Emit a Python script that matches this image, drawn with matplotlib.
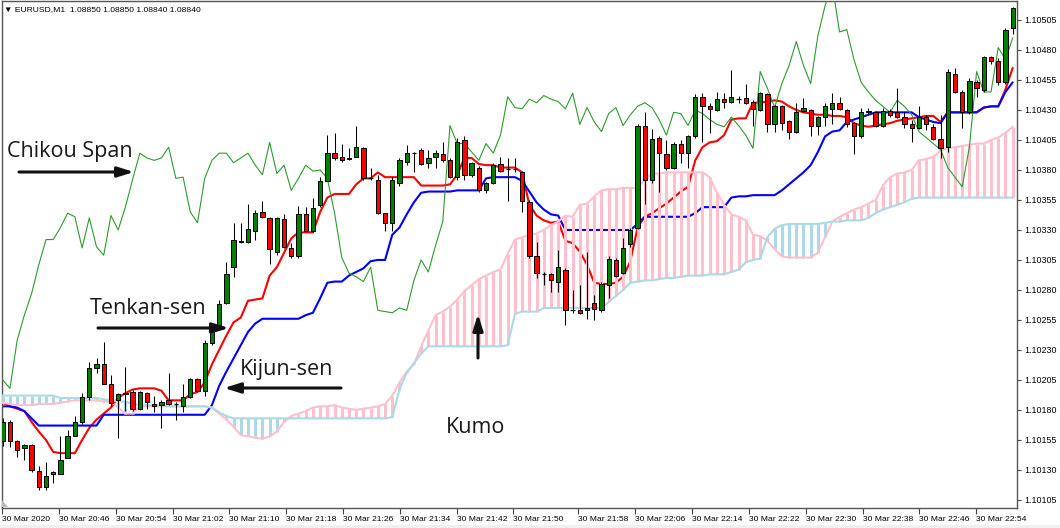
import matplotlib
matplotlib.use('Agg')
import matplotlib.pyplot as plt
import numpy as np
from matplotlib.patches import Rectangle, Polygon

# ---------------- data (EURUSD M1, prices) ----------------
opens = [1.10154,1.10170,1.10154,1.10148,1.10151,1.10129,1.10116,1.10127,1.10127,1.10140,
         1.10158,1.10170,1.10191,1.10215,1.10218,1.10202,1.10188,1.10193,1.10195,1.10181,
         1.10194,1.10185,1.10184,1.10188,1.10185,1.10183,1.10191,1.10206,1.10196,1.10236,
         1.10251,1.10269,1.10299,1.10320,1.10320,1.10329,1.10345,1.10340,1.10312,1.10339,
         1.10315,1.10308,1.10343,1.10329,1.10351,1.10371,1.10394,1.10391,1.10389,1.10391,
         1.10398,1.10373,1.10372,1.10344,1.10336,1.10369,1.10387,1.10394,1.10397,1.10386,
         1.10391,1.10393,1.10388,1.10374,1.10405,1.10376,1.10382,1.10363,1.10369,1.10385,
         1.10381,1.10381,1.10378,1.10353,1.10308,1.10293,1.10293,1.10287,1.10297,1.10263,
         1.10263,1.10263,1.10269,1.10263,1.10284,1.10305,1.10294,1.10318,1.10332,1.10417,
         1.10372,1.10407,1.10393,1.10382,1.10402,1.10394,1.10408,1.10441,1.10433,1.10430,
         1.10439,1.10437,1.10439,1.10440,1.10437,1.10430,1.10443,1.10418,1.10433,1.10421,
         1.10412,1.10429,1.10430,1.10417,1.10424,1.10431,1.10436,1.10430,1.10419,1.10408,
         1.10429,1.10428,1.10417,1.10429,1.10428,1.10424,1.10418,1.10415,1.10424,1.10416,
         1.10406,1.10399,1.10460,1.10445,1.10428,1.10453,1.10447,1.10474,1.10471,1.10453,
         1.10498]
highs = [1.10173,1.10172,1.10155,1.10152,1.10152,1.10133,1.10137,1.10129,1.10158,1.10163,
         1.10175,1.10194,1.10220,1.10223,1.10237,1.10209,1.10194,1.10216,1.10197,1.10196,
         1.10195,1.10192,1.10188,1.10211,1.10187,1.10202,1.10207,1.10207,1.10238,1.10252,
         1.10272,1.10303,1.10336,1.10336,1.10352,1.10347,1.10354,1.10341,1.10341,1.10343,
         1.10319,1.10350,1.10349,1.10357,1.10374,1.10409,1.10411,1.10402,1.10398,1.10417,
         1.10399,1.10382,1.10376,1.10344,1.10374,1.10390,1.10401,1.10395,1.10398,1.10397,
         1.10397,1.10403,1.10390,1.10407,1.10408,1.10387,1.10383,1.10370,1.10386,1.10391,
         1.10390,1.10390,1.10379,1.10355,1.10320,1.10295,1.10294,1.10313,1.10298,1.10280,
         1.10284,1.10312,1.10276,1.10287,1.10308,1.10307,1.10323,1.10332,1.10418,1.10428,
         1.10414,1.10408,1.10405,1.10403,1.10405,1.10409,1.10443,1.10444,1.10436,1.10445,
         1.10444,1.10463,1.10442,1.10452,1.10438,1.10445,1.10444,1.10434,1.10434,1.10422,
         1.10436,1.10440,1.10431,1.10425,1.10436,1.10444,1.10441,1.10431,1.10420,1.10432,
         1.10432,1.10429,1.10432,1.10431,1.10448,1.10428,1.10422,1.10433,1.10426,1.10418,
         1.10426,1.10464,1.10465,1.10447,1.10457,1.10455,1.10475,1.10475,1.10473,1.10498,
         1.10516]
lows = [1.10150,1.10149,1.10141,1.10138,1.10128,1.10113,1.10113,1.10119,1.10127,1.10140,
        1.10158,1.10168,1.10188,1.10211,1.10202,1.10183,1.10157,1.10179,1.10179,1.10180,
        1.10181,1.10178,1.10165,1.10184,1.10172,1.10178,1.10190,1.10195,1.10192,1.10234,
        1.10249,1.10268,1.10291,1.10319,1.10319,1.10322,1.10340,1.10302,1.10309,1.10315,
        1.10307,1.10307,1.10328,1.10328,1.10349,1.10371,1.10388,1.10387,1.10388,1.10391,
        1.10372,1.10372,1.10343,1.10329,1.10329,1.10367,1.10384,1.10378,1.10384,1.10382,
        1.10382,1.10387,1.10373,1.10372,1.10372,1.10374,1.10362,1.10361,1.10368,1.10378,
        1.10354,1.10378,1.10345,1.10307,1.10290,1.10284,1.10278,1.10278,1.10251,1.10261,
        1.10260,1.10256,1.10255,1.10262,1.10273,1.10291,1.10293,1.10316,1.10331,1.10352,
        1.10369,1.10362,1.10380,1.10381,1.10386,1.10382,1.10407,1.10403,1.10411,1.10429,
        1.10432,1.10436,1.10436,1.10435,1.10417,1.10429,1.10412,1.10412,1.10413,1.10406,
        1.10411,1.10428,1.10408,1.10409,1.10417,1.10418,1.10430,1.10416,1.10393,1.10407,
        1.10427,1.10416,1.10416,1.10424,1.10423,1.10415,1.10403,1.10414,1.10413,1.10405,
        1.10390,1.10395,1.10444,1.10415,1.10427,1.10441,1.10445,1.10468,1.10451,1.10452,
        1.10493]
closes = [1.10170,1.10154,1.10147,1.10151,1.10130,1.10116,1.10125,1.10128,1.10138,1.10158,
          1.10170,1.10191,1.10215,1.10218,1.10202,1.10186,1.10193,1.10194,1.10181,1.10195,
          1.10187,1.10183,1.10187,1.10185,1.10185,1.10191,1.10206,1.10196,1.10236,1.10251,
          1.10268,1.10293,1.10322,1.10321,1.10331,1.10344,1.10341,1.10314,1.10340,1.10316,
          1.10308,1.10343,1.10329,1.10348,1.10371,1.10394,1.10390,1.10388,1.10390,1.10399,
          1.10373,1.10373,1.10344,1.10336,1.10372,1.10388,1.10394,1.10394,1.10385,1.10390,
          1.10394,1.10388,1.10374,1.10403,1.10376,1.10386,1.10363,1.10369,1.10384,1.10379,
          1.10381,1.10381,1.10354,1.10308,1.10294,1.10293,1.10288,1.10299,1.10263,1.10263,
          1.10261,1.10265,1.10264,1.10285,1.10306,1.10292,1.10315,1.10330,1.10417,1.10372,
          1.10406,1.10394,1.10382,1.10402,1.10394,1.10408,1.10441,1.10433,1.10431,1.10439,
          1.10437,1.10441,1.10439,1.10436,1.10431,1.10444,1.10418,1.10433,1.10419,1.10412,
          1.10428,1.10432,1.10417,1.10424,1.10433,1.10436,1.10431,1.10418,1.10408,1.10428,
          1.10428,1.10417,1.10429,1.10426,1.10424,1.10418,1.10415,1.10424,1.10418,1.10406,
          1.10398,1.10462,1.10445,1.10428,1.10454,1.10448,1.10474,1.10471,1.10453,1.10497,
          1.10515]

tenkan = [1.10186,1.10183,1.10181,1.10179,1.10170,1.10162,1.10155,1.10145,1.10144,1.10144,
          1.10144,1.10155,1.10165,1.10172,1.10177,1.10182,1.10190,1.10194,1.10197,1.10198,
          1.10198,1.10198,1.10196,1.10188,1.10188,1.10188,1.10193,1.10195,1.10203,1.10218,
          1.10230,1.10242,1.10253,1.10257,1.10271,1.10272,1.10273,1.10292,1.10299,1.10311,
          1.10323,1.10328,1.10328,1.10328,1.10345,1.10357,1.10360,1.10360,1.10360,1.10368,
          1.10373,1.10373,1.10378,1.10374,1.10374,1.10374,1.10374,1.10374,1.10367,1.10367,
          1.10367,1.10367,1.10368,1.10376,1.10390,1.10390,1.10385,1.10384,1.10384,1.10382,
          1.10382,1.10382,1.10378,1.10351,1.10342,1.10338,1.10336,1.10337,1.10321,1.10319,
          1.10312,1.10301,1.10286,1.10285,1.10285,1.10286,1.10291,1.10304,1.10332,1.10341,
          1.10344,1.10348,1.10352,1.10357,1.10362,1.10366,1.10388,1.10399,1.10403,1.10404,
          1.10409,1.10422,1.10423,1.10423,1.10436,1.10436,1.10437,1.10438,1.10437,1.10433,
          1.10430,1.10428,1.10427,1.10426,1.10426,1.10425,1.10425,1.10424,1.10419,1.10417,
          1.10416,1.10417,1.10418,1.10419,1.10421,1.10422,1.10423,1.10424,1.10425,1.10425,
          1.10420,1.10428,1.10428,1.10428,1.10428,1.10428,1.10432,1.10433,1.10433,1.10447,
          1.10465]
kijun = [1.10183,1.10183,1.10182,1.10179,1.10173,1.10167,1.10167,1.10167,1.10167,1.10167,
         1.10167,1.10167,1.10167,1.10167,1.10176,1.10176,1.10176,1.10176,1.10176,1.10176,
         1.10176,1.10176,1.10176,1.10176,1.10176,1.10176,1.10176,1.10176,1.10176,1.10184,
         1.10200,1.10212,1.10223,1.10234,1.10245,1.10252,1.10256,1.10256,1.10256,1.10256,
         1.10256,1.10256,1.10259,1.10261,1.10273,1.10286,1.10287,1.10287,1.10292,1.10295,
         1.10298,1.10304,1.10305,1.10305,1.10326,1.10332,1.10343,1.10353,1.10361,1.10362,
         1.10362,1.10362,1.10362,1.10363,1.10363,1.10363,1.10363,1.10373,1.10374,1.10374,
         1.10374,1.10374,1.10371,1.10362,1.10353,1.10347,1.10343,1.10342,1.10330,1.10330,
         1.10330,1.10330,1.10330,1.10330,1.10330,1.10330,1.10330,1.10330,1.10335,1.10341,
         1.10341,1.10341,1.10341,1.10341,1.10341,1.10341,1.10344,1.10349,1.10349,1.10349,
         1.10349,1.10357,1.10358,1.10358,1.10359,1.10359,1.10359,1.10359,1.10363,1.10368,
         1.10373,1.10378,1.10384,1.10395,1.10408,1.10412,1.10413,1.10420,1.10422,1.10424,
         1.10426,1.10428,1.10428,1.10428,1.10428,1.10428,1.10428,1.10424,1.10422,1.10420,
         1.10419,1.10428,1.10428,1.10428,1.10428,1.10428,1.10432,1.10433,1.10433,1.10445,
         1.10453]
senkou_a = [1.10186,1.10185,1.10184,1.10184,1.10184,1.10185,1.10185,1.10185,1.10186,1.10187,
            1.10188,1.10188,1.10188,1.10188,1.10187,1.10187,1.10182,1.10177,1.10177,1.10183,
            1.10183,1.10183,1.10183,1.10183,1.10183,1.10183,1.10183,1.10183,1.10183,1.10182,
            1.10177,1.10172,1.10166,1.10159,1.10158,1.10157,1.10156,1.10158,1.10162,1.10170,
            1.10175,1.10177,1.10179,1.10182,1.10183,1.10183,1.10184,1.10182,1.10181,1.10180,
            1.10181,1.10182,1.10183,1.10185,1.10192,1.10203,1.10212,1.10218,1.10233,1.10246,
            1.10259,1.10262,1.10266,1.10272,1.10279,1.10284,1.10289,1.10292,1.10295,1.10297,
            1.10310,1.10322,1.10324,1.10326,1.10327,1.10330,1.10334,1.10337,1.10342,1.10341,
            1.10351,1.10352,1.10358,1.10363,1.10364,1.10364,1.10365,1.10365,1.10365,1.10372,
            1.10377,1.10377,1.10378,1.10378,1.10378,1.10378,1.10378,1.10378,1.10374,1.10361,
            1.10351,1.10343,1.10341,1.10338,1.10326,1.10325,1.10321,1.10314,1.10308,1.10307,
            1.10307,1.10307,1.10307,1.10311,1.10324,1.10337,1.10341,1.10344,1.10347,1.10349,
            1.10352,1.10355,1.10367,1.10374,1.10377,1.10378,1.10380,1.10388,1.10389,1.10391,
            1.10396,1.10398,1.10399,1.10400,1.10401,1.10402,1.10402,1.10405,1.10407,1.10411,
            1.10416]
senkou_b = [1.10192,1.10192,1.10192,1.10192,1.10192,1.10192,1.10192,1.10192,1.10190,1.10190,
            1.10190,1.10190,1.10190,1.10190,1.10189,1.10188,1.10187,1.10187,1.10185,1.10184,
            1.10184,1.10184,1.10184,1.10183,1.10183,1.10183,1.10183,1.10183,1.10183,1.10182,
            1.10178,1.10175,1.10173,1.10173,1.10173,1.10173,1.10173,1.10173,1.10173,1.10173,
            1.10173,1.10173,1.10173,1.10173,1.10173,1.10173,1.10173,1.10173,1.10173,1.10173,
            1.10173,1.10173,1.10173,1.10173,1.10174,1.10197,1.10211,1.10219,1.10227,1.10233,
            1.10233,1.10233,1.10233,1.10233,1.10233,1.10233,1.10233,1.10233,1.10233,1.10233,
            1.10234,1.10260,1.10262,1.10262,1.10262,1.10265,1.10265,1.10265,1.10265,1.10265,
            1.10265,1.10265,1.10265,1.10265,1.10270,1.10275,1.10280,1.10286,1.10287,1.10288,
            1.10288,1.10289,1.10290,1.10290,1.10291,1.10292,1.10292,1.10292,1.10293,1.10293,
            1.10293,1.10295,1.10297,1.10303,1.10305,1.10306,1.10324,1.10331,1.10334,1.10335,
            1.10335,1.10335,1.10335,1.10335,1.10336,1.10337,1.10337,1.10338,1.10338,1.10338,
            1.10340,1.10344,1.10347,1.10349,1.10351,1.10353,1.10356,1.10357,1.10357,1.10357,
            1.10357,1.10357,1.10357,1.10357,1.10357,1.10357,1.10357,1.10357,1.10357,1.10357,
            1.10357]
chikou = [1.10205,1.10198,1.10238,1.10259,1.10277,1.10301,1.10322,1.10322,1.10332,1.10344,
          1.10341,1.10315,1.10340,1.10316,1.10309,1.10342,1.10330,1.10349,1.10372,1.10394,
          1.10390,1.10388,1.10390,1.10399,1.10373,1.10374,1.10345,1.10336,1.10373,1.10388,
          1.10394,1.10394,1.10386,1.10390,1.10394,1.10384,1.10376,1.10403,1.10377,1.10384,
          1.10363,1.10373,1.10384,1.10379,1.10380,1.10373,1.10344,1.10307,1.10294,1.10291,
          1.10287,1.10299,1.10263,1.10262,1.10261,1.10265,1.10263,1.10288,1.10305,1.10295,
          1.10317,1.10337,1.10417,1.10402,1.10402,1.10395,1.10388,1.10402,1.10394,1.10409,
          1.10441,1.10432,1.10431,1.10439,1.10436,1.10442,1.10439,1.10437,1.10431,1.10444,
          1.10418,1.10432,1.10420,1.10412,1.10427,1.10432,1.10417,1.10426,1.10433,1.10436,
          1.10432,1.10422,1.10409,1.10428,1.10427,1.10417,1.10430,1.10427,1.10422,1.10418,
          1.10416,1.10424,1.10417,1.10409,1.10398,1.10462,1.10448,1.10432,1.10452,1.10467,
          1.10487,1.10467,1.10452,1.10492,1.10517,1.10534,1.10495,1.10497,1.10472,1.10453,
          1.10445,1.10438,1.10433,1.10428,1.10438,1.10433,1.10426,1.10412,1.10407,1.10402,
          1.10397,1.10382,1.10374,1.10366,1.10399,1.10462,1.10445,1.10445,1.10482,1.10472,
          1.10490]

price_ticks = [1.10105,1.10130,1.10155,1.10180,1.10205,1.10230,1.10255,1.10280,1.10305,
               1.10330,1.10355,1.10380,1.10405,1.10430,1.10455,1.10480,1.10505]
time_labels = ['30 Mar 2020','30 Mar 20:46','30 Mar 20:54','30 Mar 21:02','30 Mar 21:10',
               '30 Mar 21:18','30 Mar 21:26','30 Mar 21:34','30 Mar 21:42','30 Mar 21:50',
               '30 Mar 21:58','30 Mar 22:06','30 Mar 22:14','30 Mar 22:22','30 Mar 22:30',
               '30 Mar 22:38','30 Mar 22:46','30 Mar 22:54']
time_tick_bars = [-0.1,7.8,15.7,23.6,31.4,39.3,47.2,55.1,63.0,70.7,79.8,87.7,95.5,103.5,
                  111.4,119.3,127.0,134.9]

# ---------------- figure ----------------
W, H = 1060, 528
fig = plt.figure(figsize=(W / 100, H / 100), dpi=100)
fig.patch.set_facecolor('white')
L, R, T, Bt = 2, 1017, 1, 508
ax = fig.add_axes([L / W, 1 - Bt / H, (R - L) / W, (Bt - T) / H])
ax.set_facecolor('white')

bars = np.arange(len(opens))
o = np.array(opens); c = np.array(closes)
hi = np.array(highs); lo = np.array(lows)
A = np.array(senkou_a); Bs = np.array(senkou_b)

# Tenkan / Kijun (under the cloud hatch)
ax.plot(bars, tenkan, color='#FF0000', lw=1.5, zorder=2, solid_capstyle='round')
ax.plot(bars, kijun, color='#0000FF', lw=1.5, zorder=2.1, solid_capstyle='round')

# Kumo histogram hatch
cols = np.where(A >= Bs, '#FFC0CB', '#ADD8E6')
ax.vlines(bars, np.minimum(A, Bs), np.maximum(A, Bs), colors=cols, lw=2.2, zorder=3)
ax.plot(bars, A, color='#FFC0CB', lw=1.5, zorder=3.2)
ax.plot(bars, Bs, color='#ADD8E6', lw=1.5, zorder=3.2)

# Chikou span
ax.plot(bars, chikou, color='#2E9A2E', lw=0.8, zorder=4)

# Candles
ax.vlines(bars, lo, hi, color='black', lw=0.75, zorder=5)
up = c > o; dn = c < o; dj = c == o
bw = 0.6
ax.bar(bars[up], (c - o)[up], bottom=o[up], width=bw, color='#008000',
       edgecolor='black', linewidth=0.7, zorder=6)
ax.bar(bars[dn], (c - o)[dn], bottom=o[dn], width=bw, color='#FF0000',
       edgecolor='black', linewidth=0.7, zorder=6)
ax.hlines(o[dj], bars[dj] - bw / 2, bars[dj] + bw / 2, color='black', lw=0.9, zorder=6)

ax.set_xlim(-0.1, 140.6)
ax.set_ylim(1.100983, 1.105208)

# axes styling
for s in ax.spines.values():
    s.set_color('#555555'); s.set_linewidth(1.0)
ax.yaxis.tick_right()
ax.set_yticks(price_ticks)
ax.set_yticklabels([f'{p:.5f}' for p in price_ticks], family=['Liberation Sans', 'DejaVu Sans'])
ax.tick_params(axis='y', direction='out', length=3, width=0.8, colors='#444444',
               labelcolor='black', labelsize=6.4, pad=2)
ax.set_xticks(time_tick_bars)
ax.set_xticklabels(time_labels, ha='left', family=['Liberation Sans', 'DejaVu Sans'])
ax.tick_params(axis='x', direction='out', length=4, width=0.8, colors='#444444',
               labelcolor='black', labelsize=6.1, pad=1.5)

def fp(x, y):
    return (x / W, 1 - y / H)

# header text
fig.text(*fp(4, 10), '\u25bc EURUSD,M1  1.08850 1.08850 1.08840 1.08840', fontsize=6.1,
         va='center', ha='left', family=['Liberation Sans', 'DejaVu Sans'], color='black')

# annotations
afont = dict(fontsize=15.5, family=['Open Sans', 'DejaVu Sans'], color='#1a1a1a',
             va='baseline', ha='left', zorder=20)
fig.text(*fp(7, 157), 'Chikou Span', **afont)
fig.text(*fp(90, 314), 'Tenkan-sen', **afont)
fig.text(*fp(240, 375), 'Kijun-sen', **afont)
fig.text(*fp(446, 433), 'Kumo', **afont)

aprops = dict(arrowstyle='-|>,head_length=0.8,head_width=0.25', lw=2.2, color='#111111',
              mutation_scale=12, shrinkA=0, shrinkB=0)
for tail, tip in [((19, 172), (134, 172)), ((98, 328), (229, 328)),
                  ((341, 388), (224, 388)), ((478, 358), (478, 314))]:
    ax.annotate('', xy=fp(*tip), xytext=fp(*tail), xycoords='figure fraction',
                textcoords='figure fraction', arrowprops=aprops, annotation_clip=False,
                zorder=20)

# small MT4 corner marker and bottom strip
fig.patches.append(Polygon([fp(2, 500), fp(2, 507), fp(8, 507)], closed=True,
                           transform=fig.transFigure, facecolor='#bbbbbb', edgecolor='none'))
fig.patches.append(Rectangle((0, 0), 1, 3 / H, transform=fig.transFigure,
                             facecolor='#f0f0f0', edgecolor='none'))

fig.savefig('out.png', dpi=100, facecolor='white')
